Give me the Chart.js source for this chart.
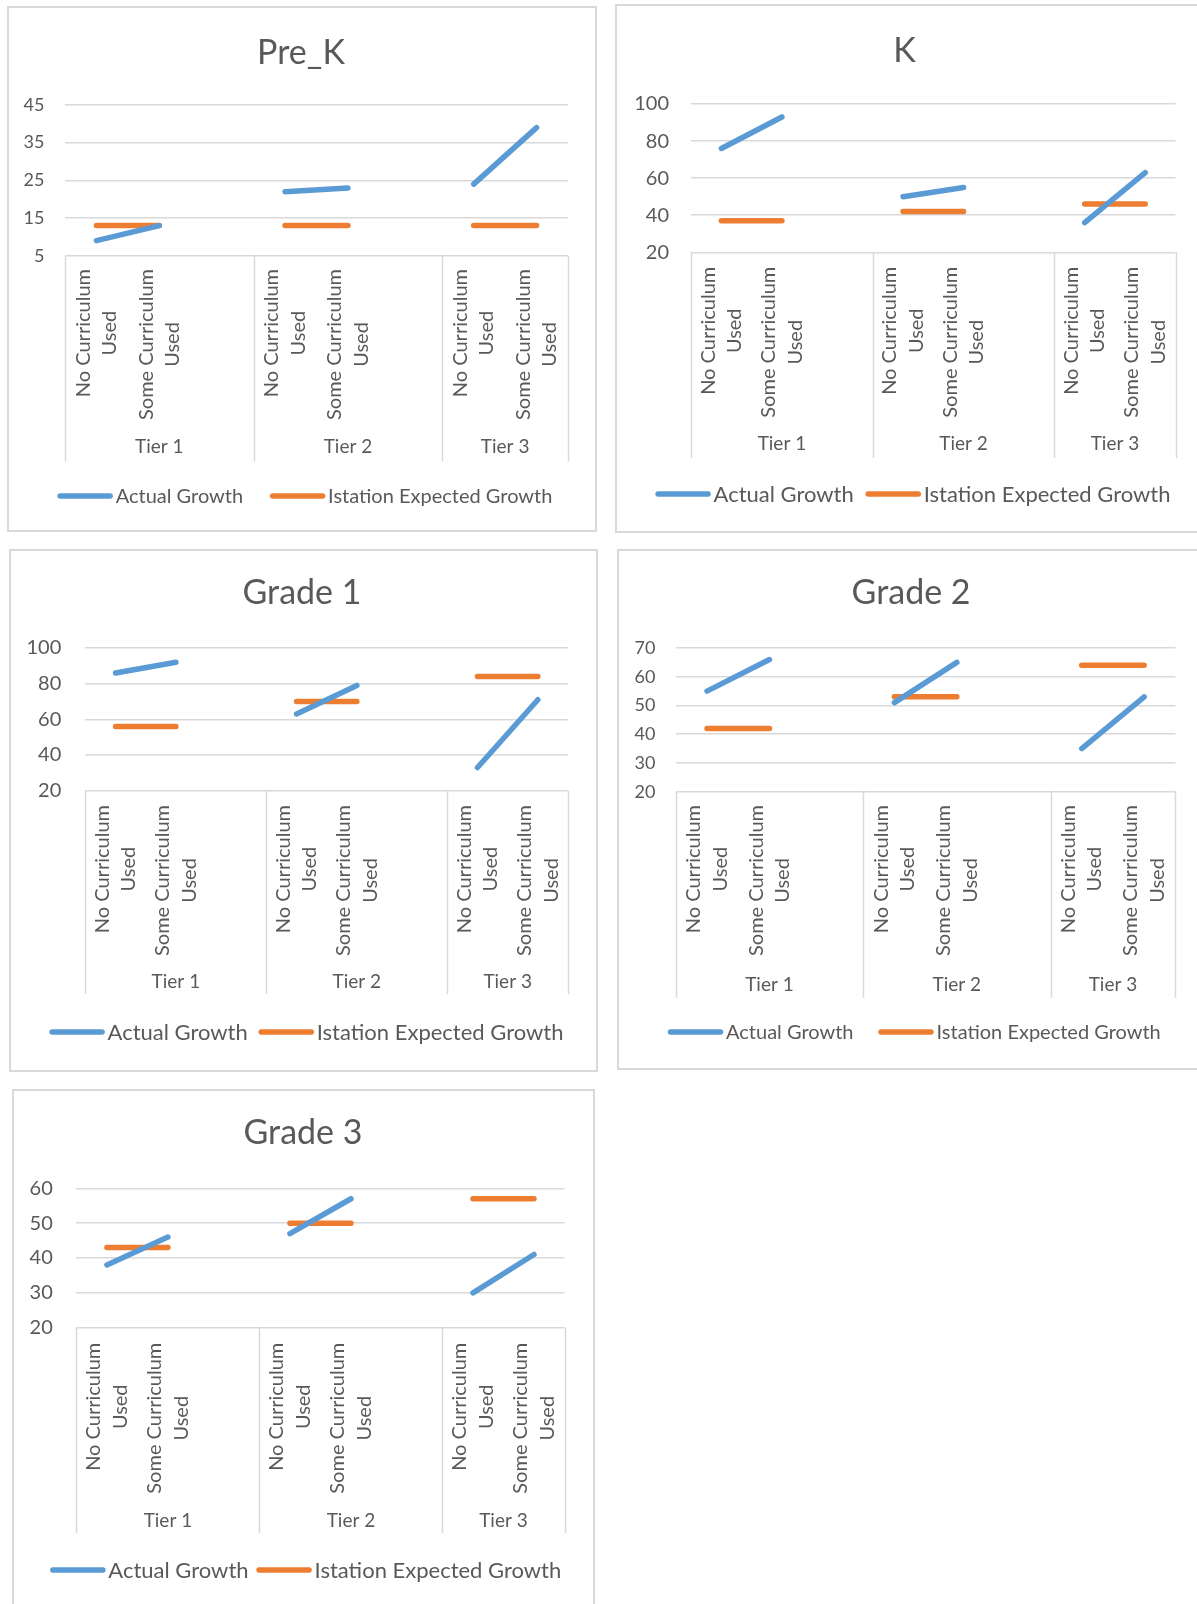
<!DOCTYPE html>
<html>
<head>
<meta charset="utf-8">
<script src="https://cdn.jsdelivr.net/npm/chart.js@4.4.1/dist/chart.umd.min.js"></script>
<style>
html, body { margin: 0; padding: 0; background: #fff; width: 1197px; height: 1604px; overflow: hidden; position: relative; }
canvas { position: absolute; }
</style>
</head>
<body>
<canvas id="preK"></canvas>
<canvas id="kinder"></canvas>
<canvas id="grade1"></canvas>
<canvas id="grade2"></canvas>
<canvas id="grade3"></canvas>
<script>
// categories
const tiers = ['Tier 1', 'Tier 2', 'Tier 3'];
const curriculum = [['No Curriculum', 'Used'], ['Some Curriculum', 'Used']];
const seriesNames = ['Actual Growth', 'Istation Expected Growth'];

// values: actual = [T1 no, T1 some, T2 no, T2 some, T3 no, T3 some], expected = one per tier
const preKActual = [9, 13, 22, 23, 24, 39];
const preKExpected = [13, 13, 13];
const kActual = [76, 93, 50, 55, 36, 63];
const kExpected = [37, 42, 46];
const grade1Actual = [86, 92, 63, 79, 33, 71];
const grade1Expected = [56, 70, 84];
const grade2Actual = [55, 66, 51, 65, 35, 53];
const grade2Expected = [42, 53, 64];
const grade3Actual = [38, 46, 47, 57, 30, 41];
const grade3Expected = [43, 50, 57];

// y axis: min, max, step
const preKAxis = [5, 45, 10];
const kAxis = [20, 100, 20];
const grade1Axis = [20, 100, 20];
const grade2Axis = [20, 70, 10];
const grade3Axis = [20, 60, 10];

const BLUE = '#5B9BD5';
const ORANGE = '#ED7D31';
const GRID = '#D9D9D9';
const TEXT = '#595959';
const FONT = "Lato, 'Open Sans', sans-serif";

// build 8 slots: each tier gets its two groups, tiers 1 and 2 get an empty slot after them
function buildLabels() {
  const out = [];
  tiers.forEach((t, i) => {
    out.push(curriculum[0], curriculum[1]);
    if (i < tiers.length - 1) out.push('');
  });
  return out;
}
function buildActual(a) {
  const out = [];
  tiers.forEach((t, i) => {
    out.push(a[i * 2], a[i * 2 + 1]);
    if (i < tiers.length - 1) out.push(null);
  });
  return out;
}
function buildExpected(e) {
  const out = [];
  tiers.forEach((t, i) => {
    out.push(e[i], e[i]);
    if (i < tiers.length - 1) out.push(null);
  });
  return out;
}
// tier spans in slot indices
function tierSpans() {
  const spans = [];
  let s = 0;
  tiers.forEach((t, i) => {
    const n = i < tiers.length - 1 ? 3 : 2;
    spans.push([s, s + n - 1]);
    s += n;
  });
  return spans;
}

function makeDecor(cfg) {
  return {
    id: 'decor',
    beforeDraw(chart) {
      const { ctx, width, height } = chart;
      ctx.save();
      ctx.fillStyle = '#fff';
      ctx.fillRect(0, 0, width, height);
      ctx.strokeStyle = GRID;
      ctx.lineWidth = 2;
      ctx.strokeRect(1, 1, width - 2, height - 2);
      ctx.restore();
    },
    afterDraw(chart) {
      const { ctx, chartArea } = chart;
      const xs = chart.scales.x;
      const ox = cfg.panel[0], oy = cfg.panel[1];
      const catBottom = cfg.catBottom - oy;
      ctx.save();

      // tier separators
      ctx.strokeStyle = GRID;
      ctx.lineWidth = 1.5;
      const spans = tierSpans();
      const edges = [spans[0][0] - 0.5].concat(spans.map(s => s[1] + 0.5));
      edges.forEach(v => {
        const px = Math.round(xs.getPixelForValue(v)) + 0.5;
        ctx.beginPath();
        ctx.moveTo(px, chartArea.bottom);
        ctx.lineTo(px, catBottom);
        ctx.stroke();
      });

      // rotated category labels, wrapped lines centred on each other
      ctx.fillStyle = TEXT;
      ctx.font = cfg.fonts.cat + 'px ' + FONT;
      ctx.textAlign = 'center';
      ctx.textBaseline = 'middle';
      const top = cfg.labelTop - oy;
      chart.data.labels.forEach((lab, i) => {
        if (!lab || !lab.length) return;
        const lines = Array.isArray(lab) ? lab : [lab];
        const wmax = Math.max(...lines.map(l => ctx.measureText(l).width));
        const cx = xs.getPixelForValue(i);
        lines.forEach((l, k) => {
          const dx = (k - (lines.length - 1) / 2) * cfg.lineGap;
          ctx.save();
          ctx.translate(cx + dx, top + wmax / 2);
          ctx.rotate(-Math.PI / 2);
          ctx.fillText(l, 0, 0);
          ctx.restore();
        });
      });

      // tier labels
      ctx.font = cfg.fonts.tier + 'px ' + FONT;
      spans.forEach((s, i) => {
        const cx = (xs.getPixelForValue(s[0] - 0.5) + xs.getPixelForValue(s[1] + 0.5)) / 2;
        ctx.fillText(tiers[i], cx, cfg.tierY - oy);
      });

      // title
      ctx.font = cfg.fonts.title + 'px ' + FONT;
      ctx.fillText(cfg.name, cfg.title[0] - ox, cfg.title[1] - oy);

      // legend
      ctx.font = cfg.fonts.legend + 'px ' + FONT;
      ctx.textAlign = 'left';
      const w1 = ctx.measureText(seriesNames[0]).width;
      const w2 = ctx.measureText(seriesNames[1]).width;
      const seg = 55, gap = 3;
      const total = seg + gap + w1 + cfg.legendGap + seg + gap + w2;
      let x = cfg.legendCx - ox - total / 2;
      const y = cfg.legendY - oy;
      ctx.lineCap = 'round';
      ctx.lineWidth = 5.5;
      [[BLUE, seriesNames[0], w1], [ORANGE, seriesNames[1], w2]].forEach(([c, name, w], k) => {
        ctx.strokeStyle = c;
        ctx.beginPath();
        ctx.moveTo(x + 2.5, y);
        ctx.lineTo(x + seg - 2.5, y);
        ctx.stroke();
        x += seg + gap;
        ctx.fillText(name, x, y + 1);
        x += w + cfg.legendGap;
      });
      ctx.restore();
    }
  };
}

function drawChart(id, cfg, actual, expected, axis) {
  const el = document.getElementById(id);
  const [x0, y0, x1, y1] = cfg.panel;
  const [pl, pt, pr, pb] = cfg.plot;
  const w = Math.round(x1 - x0), h = Math.round(y1 - y0);
  el.width = w;
  el.height = h;
  el.style.left = x0 + 'px';
  el.style.top = y0 + 'px';
  el.style.width = w + 'px';
  el.style.height = h + 'px';
  const yW = pl - x0 - 4;
  const catH = cfg.catBottom - pb;

  new Chart(el.getContext('2d'), {
    type: 'line',
    data: {
      labels: buildLabels(),
      datasets: [
        {
          label: seriesNames[0],
          data: buildActual(actual),
          borderColor: BLUE,
          backgroundColor: BLUE,
          borderWidth: 5.5,
          borderCapStyle: 'round',
          pointRadius: 0,
          tension: 0
        },
        {
          label: seriesNames[1],
          data: buildExpected(expected),
          borderColor: ORANGE,
          backgroundColor: ORANGE,
          borderWidth: 5.5,
          borderCapStyle: 'round',
          pointRadius: 0,
          tension: 0
        }
      ]
    },
    options: {
      responsive: false,
      animation: false,
      events: [],
      layout: {
        padding: { left: 4, top: pt - y0, right: x0 + w - pr, bottom: y0 + h - cfg.catBottom }
      },
      plugins: {
        legend: { display: false },
        title: { display: false },
        tooltip: { enabled: false }
      },
      scales: {
        x: {
          offset: true,
          grid: { display: false },
          border: { display: false },
          ticks: { display: false },
          afterFit: s => { s.height = catH; }
        },
        y: {
          min: axis[0],
          max: axis[1],
          border: { display: false },
          grid: { color: GRID, lineWidth: 1.5, drawTicks: false },
          ticks: {
            stepSize: axis[2],
            padding: pl - cfg.tickRight,
            color: TEXT,
            font: { family: FONT, size: cfg.fonts.tick }
          },
          afterFit: s => { s.width = yW; }
        }
      }
    },
    plugins: [makeDecor(cfg)]
  });
}

drawChart('preK', {
  name: 'Pre_K', panel: [7, 6, 597, 532], plot: [65, 105, 568, 255.7],
  catBottom: 461.7, labelTop: 269, tierY: 447, tickRight: 44.4, lineGap: 26.5,
  legendY: 496, legendCx: 305, legendGap: 27, title: [301, 52.7],
  fonts: { title: 34, tick: 18, cat: 20, tier: 19, legend: 20 }
}, preKActual, preKExpected, preKAxis);

drawChart('kinder', {
  name: 'K', panel: [614.5, 4, 1210, 533], plot: [690.6, 104, 1175, 252.3],
  catBottom: 458, labelTop: 266.7, tierY: 444, tickRight: 668.5, lineGap: 26.5,
  legendY: 494, legendCx: 912.5, legendGap: 12, title: [904, 51],
  fonts: { title: 34, tick: 20, cat: 20, tier: 19, legend: 22 }
}, kActual, kExpected, kAxis);

drawChart('grade1', {
  name: 'Grade 1', panel: [9, 549, 597.7, 1071.7], plot: [85.4, 648, 568, 790.7],
  catBottom: 994, labelTop: 805, tierY: 982, tickRight: 61.3, lineGap: 26.5,
  legendY: 1032, legendCx: 306.5, legendGap: 11, title: [302, 593],
  fonts: { title: 34, tick: 20, cat: 20, tier: 19, legend: 22 }
}, grade1Actual, grade1Expected, grade1Axis);

drawChart('grade2', {
  name: 'Grade 2', panel: [616.6, 549, 1210, 1070], plot: [675.4, 648, 1175, 791.7],
  catBottom: 998, labelTop: 805, tierY: 985, tickRight: 655, lineGap: 26.5,
  legendY: 1032, legendCx: 914, legendGap: 25, title: [910.7, 593],
  fonts: { title: 34, tick: 18, cat: 20, tier: 19, legend: 20 }
}, grade2Actual, grade2Expected, grade2Axis);

drawChart('grade3', {
  name: 'Grade 3', panel: [12, 1089, 594.6, 1620], plot: [76.4, 1188.3, 564.5, 1327.7],
  catBottom: 1533, labelTop: 1342.7, tierY: 1520.7, tickRight: 52.8, lineGap: 26.5,
  legendY: 1570, legendCx: 305.8, legendGap: 8, title: [303, 1133],
  fonts: { title: 34, tick: 20, cat: 20, tier: 19, legend: 22 }
}, grade3Actual, grade3Expected, grade3Axis);
</script>
</body>
</html>
